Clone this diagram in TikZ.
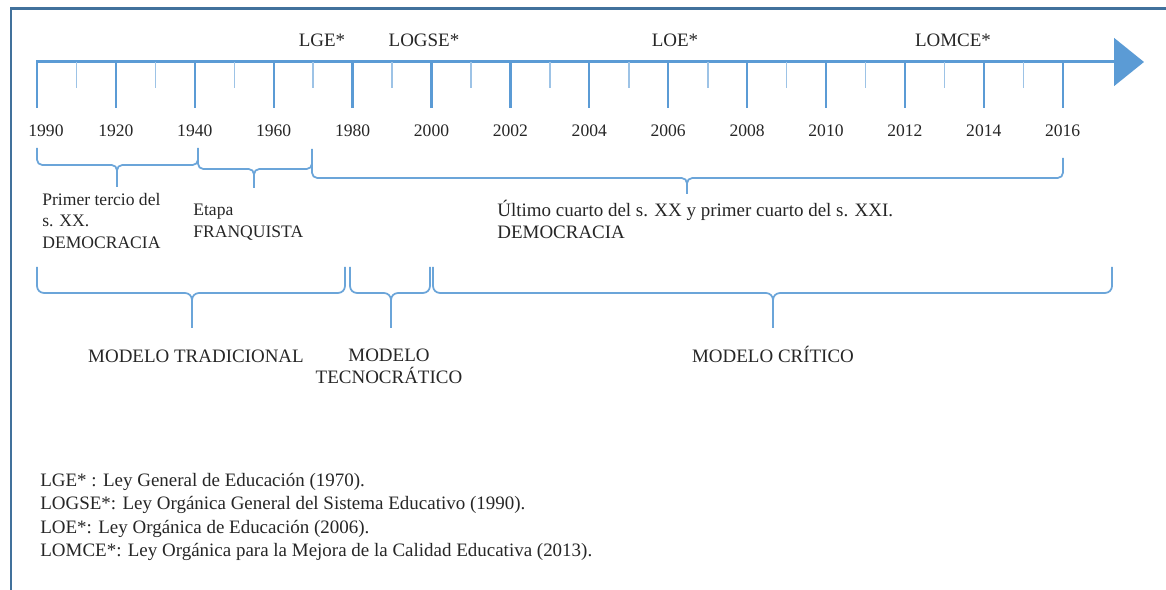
\documentclass[tikz,border=0pt]{standalone}
\usepackage{fontspec}
\setmainfont{Liberation Serif}
\usetikzlibrary{arrows.meta}
\definecolor{axisblue}{HTML}{5B9BD5}
\definecolor{tickblue}{HTML}{9DC3E6}
\definecolor{frameblue}{HTML}{41719C}
\newcommand{\tlbrace}[7][3pt]{%
  \draw[bracec,rounded corners=#1] (#2,#5) -- (#2,#6) -- (#4,#6) -- (#4,#7);
  \draw[bracec,rounded corners=#1] (#3,#5) -- (#3,#6) -- (#4,#6) -- (#4,#7);}
\begin{document}
\begin{tikzpicture}[x=0.02cm,y=-0.02cm,
    axis/.style={axisblue,line width=1.7pt},
    major/.style={axisblue,line width=1.3pt},
    minor/.style={tickblue,line width=0.9pt},
    bracec/.style={axisblue!90,line width=1pt},
    lab/.style={inner sep=0pt,text=black!85,font=\fontsize{10.8}{12.3}\selectfont},
    small/.style={lab,font=\fontsize{10}{12.2}\selectfont}]
    \useasboundingbox (0,0) rectangle (1166,590);
    \draw[frameblue,line width=1.7pt] (11,590) -- (11,9) -- (1166,9);
    \draw[axis,-{Triangle[length=17pt,width=27pt]}] (36,62) -- (1144,62);
    \foreach \i in {0,...,13}
        \draw[major] (37+78.9*\i,62) -- (37+78.9*\i,108);
    \foreach \i in {0,...,12}
        \draw[minor] (76.5+78.9*\i,62) -- (76.5+78.9*\i,88);
    \node[small,anchor=base] (y0) at (46,137) {1990};
    \foreach \yr [count=\i] in {1920,1940,1960,1980,2000,2002,2004,2006,2008,2010,2012,2014,2016}
        \node[small,anchor=base] (y\i) at (37+78.9*\i,137) {\yr};
    \node[lab,anchor=base] (lge) at (322,47) {LGE*};
    \node[lab,anchor=base] (logse) at (424,47) {LOGSE*};
    \node[lab,anchor=base] (loe) at (675,47) {LOE*};
    \node[lab,anchor=base] (lomce) at (953,47) {LOMCE*};
    \tlbrace{37}{198}{117}{148}{165}{187}
    \tlbrace{198}{312}{254}{149}{169}{188}
    \tlbrace{312}{1063}{687}{158}{178}{194}
    \node[small,anchor=north west,align=left] (primer) at (42,193) {Primer tercio del\\s. XX.\\DEMOCRACIA};
    \node[small,anchor=north west,align=left] (etapa) at (193,204) {Etapa\\FRANQUISTA};
    \node[lab,anchor=north west,align=left] (ultimo) at (497,200) {Último cuarto del s. XX y primer cuarto del s. XXI.\\DEMOCRACIA};
    \tlbrace[4pt]{37}{345}{192}{267}{293}{328}
    \tlbrace[4pt]{350}{430}{391}{267}{293}{328}
    \tlbrace[4pt]{433}{1112}{773}{267}{293}{328}
    \node[lab,anchor=base] (tradicional) at (196,363) {MODELO TRADICIONAL};
    \node[lab,anchor=north,align=center] (tecnocratico) at (389,349) {MODELO\\TECNOCRÁTICO};
    \node[lab,anchor=base] (critico) at (773,363) {MODELO CRÍTICO};
    \node[lab,anchor=north west,align=left,font=\fontsize{10.8}{13.3}\selectfont] (leyenda) at (40,473)
        {LGE* : Ley General de Educación (1970).\\
         LOGSE*: Ley Orgánica General del Sistema Educativo (1990).\\
         LOE*: Ley Orgánica de Educación (2006).\\
         LOMCE*: Ley Orgánica para la Mejora de la Calidad Educativa (2013).};
\end{tikzpicture}
\end{document}
